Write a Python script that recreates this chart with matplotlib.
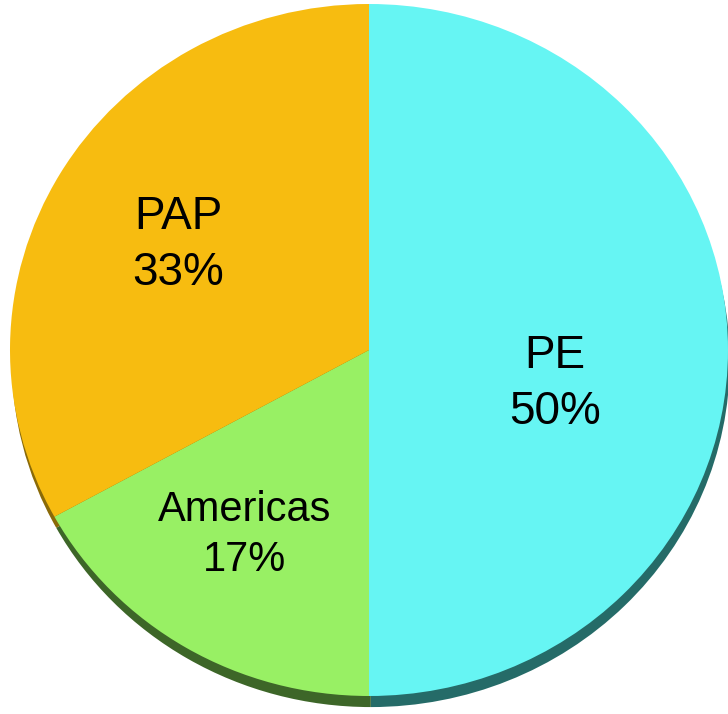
#!/usr/bin/env python3
"""Pie chart: share by region (PE / Americas / PAP)."""

import matplotlib

matplotlib.use("Agg")
import matplotlib.pyplot as plt

labels = ["PE", "Americas", "PAP"]
shares = [50, 17, 33]
colors = ["#66F5F3", "#98F064", "#F7BC10"]
shadow_colors = ["#256B68", "#3D6628", "#8A6A08"]

# label anchor points (pixel coords of the reference) and font sizes
label_pos = {"PE": (555, 384), "Americas": (245, 535), "PAP": (178, 245)}
label_size = {"PE": 33, "Americas": 30, "PAP": 33}

W, H = 728, 714
CX, CY, RX, RY = 369, 350, 359, 346


def px(x, y):
    return (x - CX) / RX, (CY - y) / RY


fig = plt.figure(figsize=(W / 100, H / 100), dpi=100)
ax = fig.add_axes([0, 0, 1, 1])

# darker copy underneath gives the thin "3D" rim at the bottom
ax.pie(shares, colors=shadow_colors, startangle=90, counterclock=False,
       radius=1.0, center=(0.005, -0.032), frame=True,
       wedgeprops={"linewidth": 0})
ax.pie(shares, colors=colors, startangle=90, counterclock=False,
       radius=1.0, center=(0, 0), frame=True,
       wedgeprops={"linewidth": 0})

for name, val in zip(labels, shares):
    x, y = px(*label_pos[name])
    ax.text(x, y, f"{name}\n{val}%", ha="center", va="center",
            fontsize=label_size[name], family="Liberation Sans",
            linespacing=1.38 if name != "Americas" else 1.3, color="black")

x0, y0 = px(0, 0)
x1, y1 = px(W, H)
ax.set_xlim(x0, x1)
ax.set_ylim(y1, y0)
ax.set_aspect("auto")
ax.axis("off")

fig.savefig("out.png", dpi=100)
